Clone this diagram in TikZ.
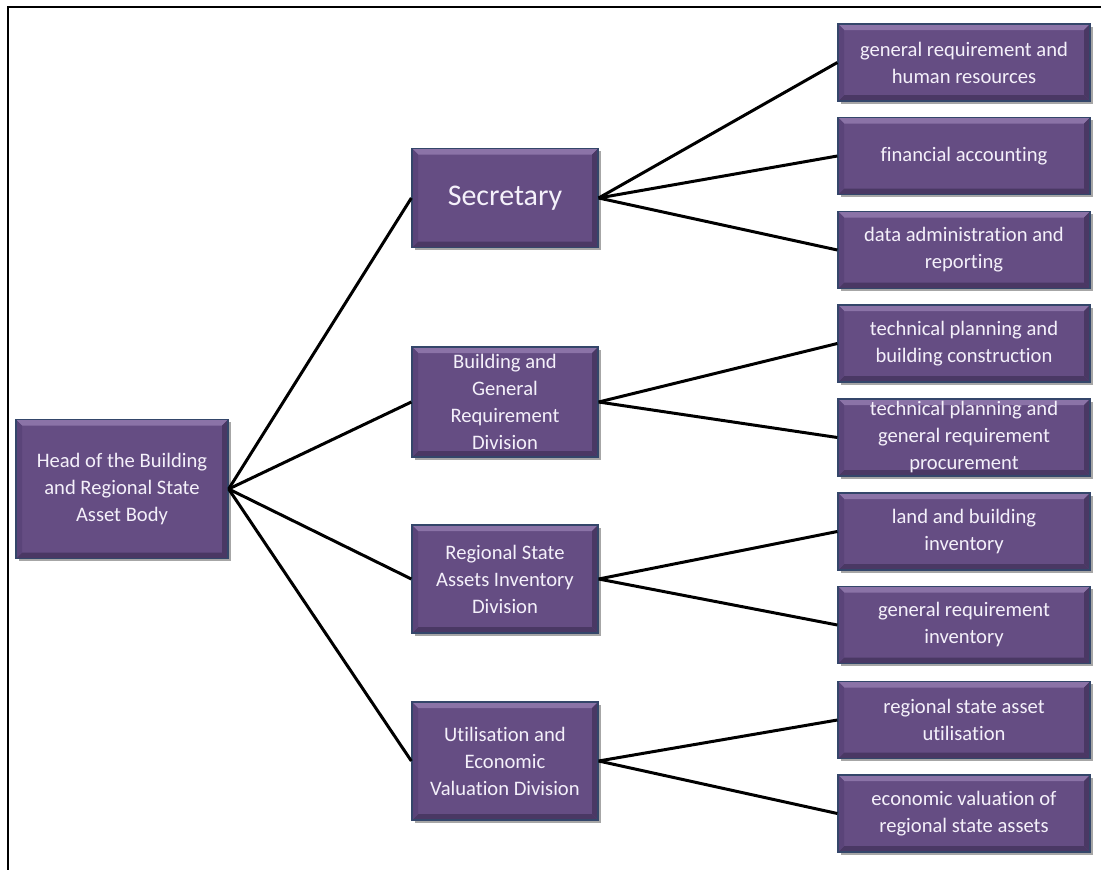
\documentclass[tikz,border=0pt]{standalone}
\usepackage{fontspec}
\setmainfont{Carlito}[Ligatures=NoCommon]
\usetikzlibrary{shadows}

\definecolor{boxfill}{HTML}{654D83}
\definecolor{boxedge}{HTML}{34466A}
\definecolor{bevtop}{HTML}{8B73A7}
\definecolor{bevbot}{HTML}{4A3864}
\definecolor{bevside}{HTML}{5A4479}
\definecolor{boxtext}{HTML}{F4F0FA}

\tikzset{
  orgbox/.style={
    draw=boxedge, line width=1.3pt, fill=boxfill, text=boxtext,
    align=center, inner sep=0pt,
    font=\fontsize{20.6}{27}\selectfont,
    general shadow={fill=black!35, shadow xshift=2.5pt, shadow yshift=-2.5pt},
    path picture={
      \coordinate (pnw) at (path picture bounding box.north west);
      \coordinate (pne) at (path picture bounding box.north east);
      \coordinate (psw) at (path picture bounding box.south west);
      \coordinate (pse) at (path picture bounding box.south east);
      \fill[bevtop] (pnw) -- (pne) -- ([shift={(-6pt,-6pt)}]pne) -- ([shift={(6pt,-6pt)}]pnw) -- cycle;
      \fill[bevbot] (psw) -- (pse) -- ([shift={(-6pt,6pt)}]pse) -- ([shift={(6pt,6pt)}]psw) -- cycle;
      \fill[bevside] (pnw) -- ([shift={(6pt,-6pt)}]pnw) -- ([shift={(6pt,6pt)}]psw) -- (psw) -- cycle;
      \fill[bevbot] (pne) -- ([shift={(-6pt,-6pt)}]pne) -- ([shift={(-6pt,6pt)}]pse) -- (pse) -- cycle;
    }
  },
  leafbox/.style={orgbox, minimum width=252pt, minimum height=77pt},
  divbox/.style={orgbox, minimum width=186pt},
  conn/.style={draw=black, line width=3pt},
  frameline/.style={draw=black, line width=1.3pt}
}

\begin{document}
\begin{tikzpicture}[x=1pt, y=-1pt]
  \useasboundingbox (0,0) rectangle (1101,870);
  \draw[frameline] (8,870) -- (8,7) -- (1101,7);

  % root
  \node[orgbox, minimum width=212pt, minimum height=139pt] (head) at (122,489)
    {Head of the Building\\and Regional State\\Asset Body};

  % divisions
  \node[divbox, minimum height=99pt, font=\fontsize{30}{36}\selectfont] (sec) at (505,198) {Secretary};
  \node[divbox, minimum height=110pt] (bld) at (505,402) {Building and\\General\\Requirement\\Division};
  \node[divbox, minimum height=108pt] (reg) at (505,579) {Regional State\\Assets Inventory\\Division};
  \node[divbox, minimum height=118pt] (utl) at (505,761) {Utilisation and\\Economic\\Valuation Division};

  % units
  \node[leafbox] (r1) at (964,62.5) {general requirement and\\human resources};
  \node[leafbox] (r2) at (964,156) {financial accounting};
  \node[leafbox] (r3) at (964,250) {data administration and\\reporting};
  \node[leafbox] (r4) at (964,343.5) {technical planning and\\building construction};
  \node[leafbox] (r5) at (964,437.5) {technical planning and\\general requirement\\procurement};
  \node[leafbox] (r6) at (964,531.5) {land and building\\inventory};
  \node[leafbox] (r7) at (964,625) {general requirement\\inventory};
  \node[leafbox] (r8) at (964,720) {regional state asset\\utilisation};
  \node[leafbox] (r9) at (964,813.5) {economic valuation of\\regional state assets};

  % connectors
  \foreach \d in {sec,bld,reg,utl} \draw[conn] (head.east) -- (\d.west);
  \foreach \u in {r1,r2,r3} \draw[conn] (sec.east) -- (\u.west);
  \foreach \u in {r4,r5} \draw[conn] (bld.east) -- (\u.west);
  \foreach \u in {r6,r7} \draw[conn] (reg.east) -- (\u.west);
  \foreach \u in {r8,r9} \draw[conn] (utl.east) -- (\u.west);
\end{tikzpicture}
\end{document}
